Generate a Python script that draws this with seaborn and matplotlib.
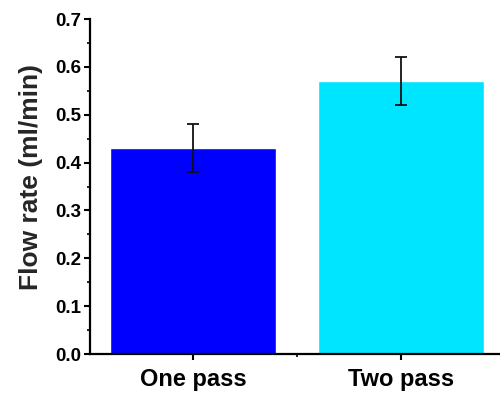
import pandas as pd
import numpy as np
import matplotlib
matplotlib.use("Agg")
import matplotlib.pyplot as plt
from matplotlib.ticker import MultipleLocator, FixedLocator
import seaborn as sns

# Flow rate data
passes = ["One pass", "Two pass"]
flow_rate = [0.43, 0.57]
flow_err = [0.05, 0.05]
bar_colors = ["#0000FF", "#00E5FF"]

df = pd.DataFrame({"Pass": passes, "Flow": flow_rate})

sns.set_style("white")
plt.rcParams["font.family"] = ["Liberation Sans", "DejaVu Sans"]
plt.rcParams["font.weight"] = "bold"

fig = plt.figure(figsize=(5, 3.94), dpi=100)
ax = fig.add_axes([0.179, 0.1015, 0.83, 0.850])

sns.barplot(data=df, x="Pass", y="Flow", hue="Pass", palette=bar_colors,
            errorbar=None, width=0.8, legend=False, saturation=1, ax=ax)
ax.errorbar(x=np.arange(len(passes)), y=flow_rate, yerr=flow_err, fmt="none",
            ecolor="#111111", elinewidth=1.3, capsize=4, capthick=1.3)

ax.set_xlim(-0.5, 1.5)
ax.set_ylim(0, 0.7)
ax.yaxis.set_major_locator(MultipleLocator(0.1))
ax.yaxis.set_minor_locator(MultipleLocator(0.05))
ax.xaxis.set_minor_locator(FixedLocator([0.5]))
ax.set_yticks(np.arange(0, 0.71, 0.1))
ax.set_yticklabels([f"{v:.1f}" for v in np.arange(0, 0.71, 0.1)],
                   fontsize=13.5, fontweight="bold")
ax.set_xticks(range(len(passes)))
ax.set_xticklabels(passes, fontsize=17, fontweight="bold")

for side in ["top", "right"]:
    ax.spines[side].set_visible(False)
for side in ["left", "bottom"]:
    ax.spines[side].set_linewidth(1.6)
    ax.spines[side].set_color("black")

ax.tick_params(which="major", direction="out", length=4, width=1.5,
               left=True, bottom=True, colors="black")
ax.tick_params(axis="y", which="major", pad=2)
ax.tick_params(axis="x", which="major", pad=6)
ax.tick_params(which="minor", direction="out", length=2.5, width=1.2,
               left=True, bottom=True, colors="black")

ax.set_xlabel("")
ax.set_ylabel("Flow rate (ml/min)", fontsize=19, fontweight="bold")
ax.yaxis.set_label_coords(-0.112, 0.53)

fig.savefig("out.png", dpi=100)
